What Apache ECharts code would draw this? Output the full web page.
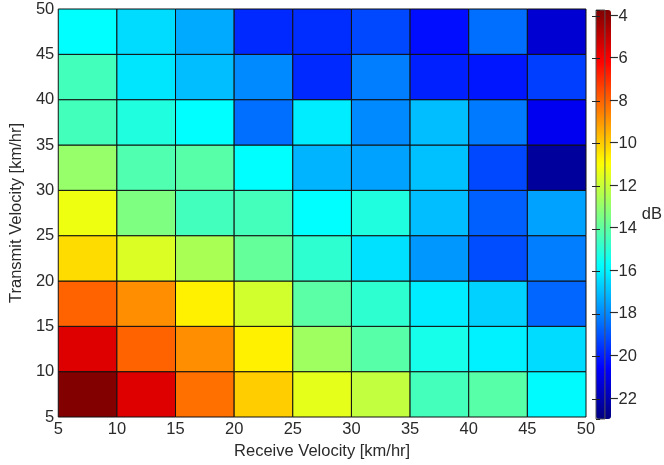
<!DOCTYPE html>
<html><head><meta charset="utf-8">
<script src="https://cdn.jsdelivr.net/npm/echarts@6/dist/echarts.min.js"></script>
<style>html,body{margin:0;padding:0;background:#fff}#c{width:664px;height:465px}</style>
</head><body><div id="c"></div>
<script>
// Lower edges of the cells (km/hr)
const receiveVelocity = [5, 10, 15, 20, 25, 30, 35, 40, 45];
const transmitVelocity = [5, 10, 15, 20, 25, 30, 35, 40, 45];
const cellSize = 5;
// gain in dB; rows = transmit velocity (bottom to top), columns = receive velocity
const gainDb = [
  [-3.77, -5.49, -8.23, -9.99, -11.42, -12.09, -14.45, -14.10, -15.80],
  [-5.49, -7.98, -8.80, -10.66, -12.72, -14.10, -15.34, -16.00, -16.40],
  [-7.98, -8.80, -10.66, -11.80, -14.05, -14.86, -16.10, -16.60, -18.63],
  [-10.27, -11.60, -12.53, -13.85, -14.86, -16.30, -17.70, -19.10, -18.17],
  [-11.23, -13.34, -14.50, -14.45, -15.73, -15.15, -16.97, -18.73, -17.50],
  [-12.91, -14.23, -14.10, -15.73, -17.16, -17.50, -16.90, -19.18, -22.40],
  [-14.47, -15.15, -15.73, -18.45, -16.10, -17.94, -16.97, -18.25, -20.80],
  [-14.47, -16.20, -16.97, -17.94, -19.76, -18.17, -19.93, -20.12, -19.38],
  [-15.73, -16.40, -17.32, -19.76, -19.70, -19.18, -20.30, -18.45, -21.37]
];
const colorRange = [-22.94, -3.72];
const jet = ['#000080', '#0000ff', '#0080ff', '#00ffff', '#80ff80', '#ffff00', '#ff8000', '#ff0000', '#800000'];

const cells = [];
transmitVelocity.forEach((ty, r) => {
  receiveVelocity.forEach((rx, c) => { cells.push([rx, ty, gainDb[r][c]]); });
});

const font = 'Liberation Sans, Arial, Helvetica, sans-serif';
const txt = '#2a2a2a';
const fs = 16.5;
const minus = v => String(v).replace('-', '\u2212');

const chart = echarts.init(document.getElementById('c'));
chart.setOption({
  animation: false,
  backgroundColor: '#fff',
  textStyle: { fontFamily: font },
  grid: [
    { left: 55, top: 9, width: 531, height: 408 },
    { left: 596, top: 10, width: 15, height: 409, show: true, borderColor: '#555', borderWidth: 1, z: 10 }
  ],
  xAxis: [
    { type: 'value', gridIndex: 0, min: 5, max: 50, interval: 5,
      name: 'Receive Velocity [km/hr]', nameLocation: 'middle', nameGap: 26,
      nameTextStyle: { fontSize: fs, color: txt, fontFamily: font },
      axisLine: { show: false }, axisTick: { show: false }, splitLine: { show: false },
      axisLabel: { fontSize: fs, color: txt, margin: 4, fontFamily: font } },
    { type: 'value', gridIndex: 1, min: 0, max: 1, show: false }
  ],
  yAxis: [
    { type: 'value', gridIndex: 0, min: 5, max: 50, interval: 5,
      name: 'Transmit Velocity [km/hr]', nameLocation: 'middle', nameGap: 31,
      nameTextStyle: { fontSize: fs, color: txt, fontFamily: font },
      axisLine: { show: false }, axisTick: { show: false }, splitLine: { show: false },
      axisLabel: { fontSize: fs, color: txt, margin: 4, fontFamily: font } },
    { type: 'value', gridIndex: 1, min: colorRange[0], max: colorRange[1], splitNumber: 10,
      position: 'right', z: 10,
      name: 'dB', nameLocation: 'middle', nameRotate: 0, nameGap: 33,
      nameTextStyle: { fontSize: fs, color: txt, fontFamily: font, align: 'left', padding: [0, 0, 22, 0] },
      axisLine: { show: false }, splitLine: { show: false },
      axisTick: { show: true, inside: true, length: 4, lineStyle: { color: '#222' } },
      axisLabel: { fontSize: fs, color: txt, margin: 4, fontFamily: font,
        showMinLabel: false, showMaxLabel: false,
        formatter: v => (Math.abs(v - Math.round(v)) < 1e-6 ? minus(Math.round(v)) : '') } },
    { type: 'value', gridIndex: 1, min: colorRange[0], max: colorRange[1], splitNumber: 10,
      position: 'left', z: 10,
      axisLine: { show: false }, splitLine: { show: false }, axisLabel: { show: false },
      axisTick: { show: true, inside: true, length: 4, lineStyle: { color: '#222' } } }
  ],
  visualMap: {
    type: 'continuous', min: colorRange[0], max: colorRange[1], dimension: 2, seriesIndex: 0,
    calculable: false, hoverLink: false, orient: 'vertical',
    left: 596, top: 10, itemWidth: 15, itemHeight: 409, padding: 0, text: null, showLabel: false,
    inRange: { color: jet }
  },
  series: [{
    type: 'custom', coordinateSystem: 'cartesian2d', xAxisIndex: 0, yAxisIndex: 0,
    encode: { x: 0, y: 1 },
    data: cells,
    renderItem: function (params, api) {
      const x0 = api.value(0), y0 = api.value(1);
      const p1 = api.coord([x0, y0 + cellSize]);
      const p2 = api.coord([x0 + cellSize, y0]);
      return { type: 'rect',
        shape: { x: p1[0], y: p1[1], width: p2[0] - p1[0], height: p2[1] - p1[1] },
        style: { fill: api.visual('color'), stroke: '#111', lineWidth: 1 } };
    }
  }]
});
</script></body></html>
